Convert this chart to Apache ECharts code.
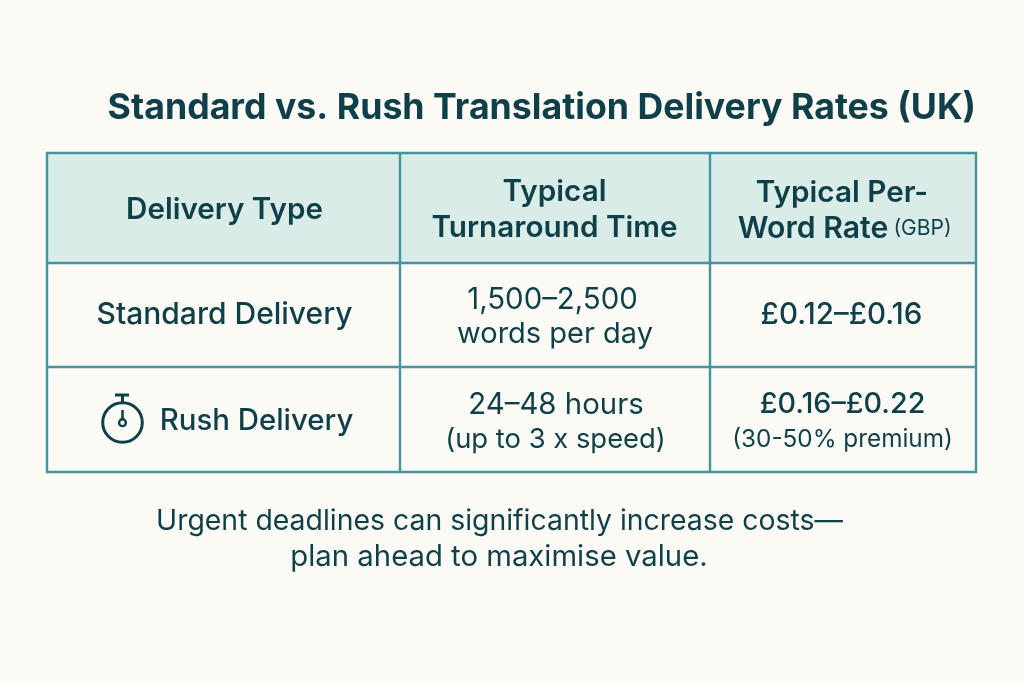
<!DOCTYPE html>
<html><head><meta charset="utf-8">
<style>html,body{margin:0;padding:0;background:#fbfaf5}#c{width:1024px;height:683px}</style>
<script src="https://cdn.jsdelivr.net/npm/echarts@6/dist/echarts.min.js"></script></head>
<body><div id="c"></div>
<script>
const titleText = 'Standard vs. Rush Translation Delivery Rates (UK)';
const columns = ['Delivery Type', 'Typical\nTurnaround Time', 'Typical Per-', 'Word Rate'];
const rows = ['Standard Delivery', 'Rush Delivery'];
const turnaround = ['1,500–2,500', 'words per day', '24–48 hours', '(up to 3 x speed)'];
const rates = ['£0.12–£0.16', '£0.16–£0.22'];
const notes = ['', '(30-50% premium)'];
const footer = ['Urgent deadlines can significantly increase costs—', 'plan ahead to maximise value.'];
const xEdges = [47, 400, 710, 976];
const yEdges = [153, 263, 367, 472];
const ink = '#0f3f48', line = '#4595a0', head = '#d9ece7', bg = '#fbfaf5';
const font = 'Inter';
const chart = echarts.init(document.getElementById('c'), null, {renderer:'canvas'});
const g = [];
g.push({type:'rect',shape:{x:xEdges[0],y:yEdges[0],width:xEdges[3]-xEdges[0],height:yEdges[1]-yEdges[0]},style:{fill:head}});
xEdges.forEach(x=>g.push({type:'line',shape:{x1:x,y1:yEdges[0]-1,x2:x,y2:yEdges[3]+1},style:{stroke:line,lineWidth:2.4}}));
yEdges.forEach(y=>g.push({type:'line',shape:{x1:xEdges[0]-1,y1:y,x2:xEdges[3]+1,y2:y},style:{stroke:line,lineWidth:2.4}}));
function t(text,x,y,size,weight,align,lh){g.push({type:'text',style:{text,x,y,fill:ink,font:`${weight} ${size}px ${font}`,align:align||'center',verticalAlign:'middle',lineHeight:lh||size*1.2}});}
t(titleText,976,108,35.7,700,'right');
t(columns[0],224.5,210,29.6,600);
t(columns[1],554.5,210,29.7,600,'center',36);
t(columns[2],842,193,29.7,600);
t(columns[3],813,229,30.2,600);
t('(GBP)',922.5,229,21,400);
t(rows[0],224.5,315,30,500);
t(rows[1],256.5,421,29.4,500);
t(turnaround[0],552.5,300,29.4,400);
t(turnaround[1],555,334,29,400);
t(turnaround[2],556,405,29.4,400);
t(turnaround[3],555.5,440,27.4,400);
t(rates[0],841.5,315,29.5,500);
t(rates[1],842.5,404,28.7,500);
t(notes[1],842.5,440,24.3,400);
t(footer[0],499.5,521,28.4,400);
t(footer[1],499,557,29.3,400);
g.push({type:'circle',shape:{cx:122.5,cy:422.5,r:19.8},style:{fill:'none',stroke:ink,lineWidth:3}});
g.push({type:'line',shape:{x1:115,y1:395,x2:129,y2:395},style:{stroke:ink,lineWidth:3}});
g.push({type:'line',shape:{x1:122.5,y1:395,x2:122.5,y2:403},style:{stroke:ink,lineWidth:3}});
g.push({type:'line',shape:{x1:122.5,y1:410,x2:122.5,y2:422},style:{stroke:ink,lineWidth:2.6}});
g.push({type:'circle',shape:{cx:122.5,cy:422.7,r:3.4},style:{fill:bg,stroke:ink,lineWidth:2.4}});
chart.setOption({backgroundColor:bg,animation:false,graphic:{elements:g}});
</script></body></html>
